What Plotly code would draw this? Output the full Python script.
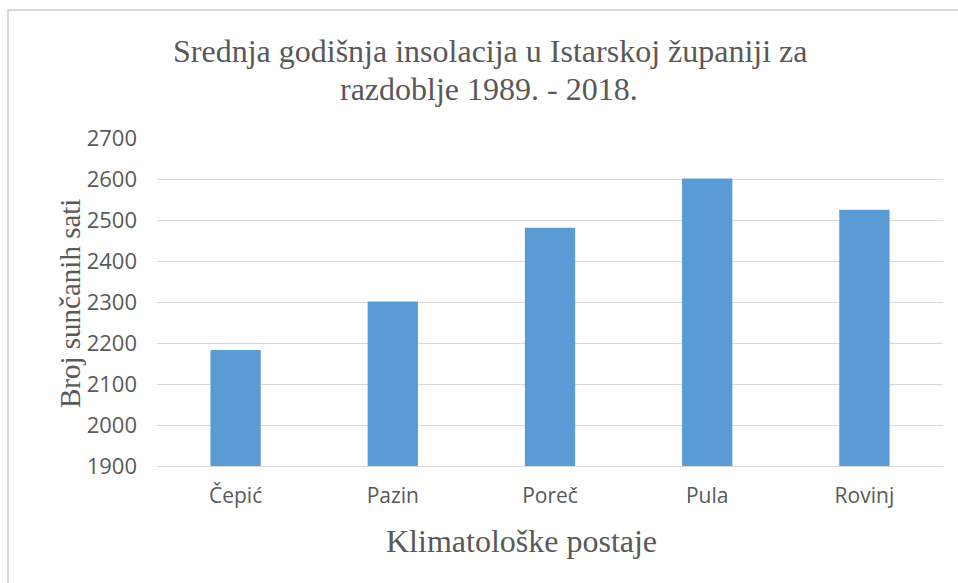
import plotly.graph_objects as go

categories = ["Čepić", "Pazin", "Poreč", "Pula", "Rovinj"]
values = [2183, 2301, 2481, 2601, 2525]
y_ticks = [1900, 2000, 2100, 2200, 2300, 2400, 2500, 2600, 2700]

title_line1 = "Srednja godišnja insolacija u Istarskoj županiji za"
title_line2 = "razdoblje 1989. - 2018."
x_title = "Klimatološke postaje"
y_title = "Broj sunčanih sati"

W, H = 958, 583
L, R, T, B = 157, 15, 138, 117
pw, ph = W - L - R, H - T - B

def px(x):
    return (x - L) / pw

def py(y):
    return (H - B - y) / ph

TEXT = "#595959"
GRID = "#d9d9d9"

fig = go.Figure(go.Bar(
    x=categories, y=values,
    marker=dict(color="#5B9BD5", line=dict(width=0)),
    width=0.32,
))

fig.update_layout(
    width=W, height=H,
    margin=dict(l=L, r=R, t=T, b=B, autoexpand=False),
    paper_bgcolor="white", plot_bgcolor="white",
    showlegend=False,
    font=dict(family="Open Sans", color=TEXT, size=22),
    xaxis=dict(
        showgrid=False, showline=True, linecolor=GRID, linewidth=1,
        ticks="", tickfont=dict(family="Open Sans", size=21, color=TEXT),
        ticklabelstandoff=11,
    ),
    yaxis=dict(
        range=[1900, 2700], tickvals=y_ticks, showgrid=True, gridcolor=GRID, gridwidth=1,
        zeroline=False, showline=False, ticks="",
        tickfont=dict(family="Open Sans", size=22, color=TEXT),
        ticklabelstandoff=19,
    ),
    annotations=[
        dict(text=title_line1, xref="paper", yref="paper", x=px(490), y=py(51),
             xanchor="center", yanchor="middle", showarrow=False,
             font=dict(family="Liberation Serif", size=32, color=TEXT)),
        dict(text=title_line2, xref="paper", yref="paper", x=px(489), y=py(89),
             xanchor="center", yanchor="middle", showarrow=False,
             font=dict(family="Liberation Serif", size=32, color=TEXT)),
        dict(text=x_title, xref="paper", yref="paper", x=px(521), y=py(541),
             xanchor="center", yanchor="middle", showarrow=False,
             font=dict(family="Liberation Serif", size=32, color=TEXT)),
        dict(text=y_title, xref="paper", yref="paper", x=px(70), y=py(304),
             xanchor="center", yanchor="middle", showarrow=False, textangle=-90,
             font=dict(family="Liberation Serif", size=29, color=TEXT)),
    ],
    shapes=[
        dict(type="rect", xref="paper", yref="paper",
             x0=px(8), x1=px(975), y0=py(10), y1=py(600),
             line=dict(color=GRID, width=2), fillcolor="rgba(0,0,0,0)", layer="below"),
    ],
)

fig.write_html("out.html", config={"displayModeBar": False},
               post_script="document.body.style.margin='0';document.body.style.overflow='hidden';")
